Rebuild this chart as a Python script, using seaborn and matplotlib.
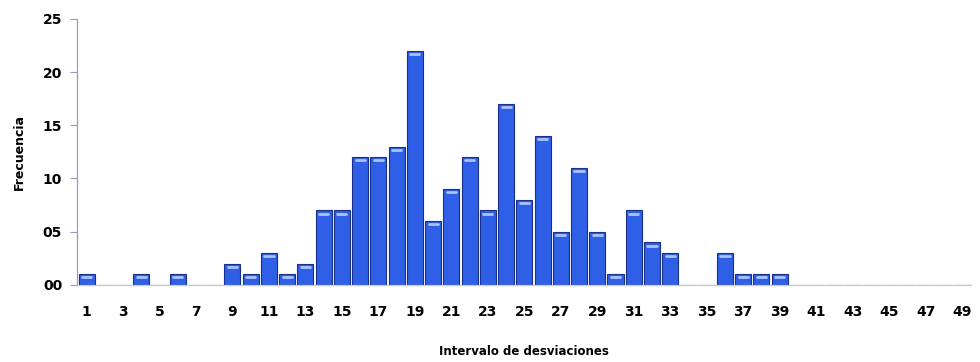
import matplotlib
matplotlib.use("Agg")
import matplotlib.pyplot as plt
import seaborn as sns
import pandas as pd

# Frequency of each deviation interval (1..49)
intervals = list(range(1, 50))
frequencies = [1, 0, 0, 1, 0, 1, 0, 0, 2, 1,
               3, 1, 2, 7, 7, 12, 12, 13, 22, 6,
               9, 12, 7, 17, 8, 14, 5, 11, 5, 1,
               7, 4, 3, 0, 0, 3, 1, 1, 1, 0,
               0, 0, 0, 0, 0, 0, 0, 0, 0]
y_ticks = [0, 5, 10, 15, 20, 25]

df = pd.DataFrame({"intervalo": intervals, "frecuencia": frequencies})

sns.set_style("white")
plt.rcParams["font.family"] = ["DejaVu Sans"]
plt.rcParams["text.color"] = "black"
plt.rcParams["axes.labelcolor"] = "black"
plt.rcParams["xtick.color"] = "black"
plt.rcParams["ytick.color"] = "black"

fig = plt.figure(figsize=(9.8, 3.62), dpi=100)
ax = fig.add_axes([0.079, 0.213, 0.912, 0.735])

sns.barplot(data=df, x="intervalo", y="frecuencia", order=intervals,
            color="#2f5fe6", saturation=1, width=0.88,
            edgecolor="#18308a", linewidth=0.8, ax=ax)

# light cap on each bar top
for i, v in enumerate(frequencies):
    if v > 0:
        ax.plot([i - 0.25, i + 0.25], [v - 0.3, v - 0.3], color="#a9c4ff",
                lw=2, solid_capstyle="round", zorder=3)

ax.set_xlim(-0.5, len(intervals) - 0.5)
ax.set_ylim(0, 25)
ax.set_yticks(y_ticks)
ax.set_yticklabels([f"{t:02d}" for t in y_ticks], fontsize=10, fontweight="bold")
ax.set_xticks(range(0, len(intervals), 2))
ax.set_xticklabels([str(intervals[i]) for i in range(0, len(intervals), 2)],
                   fontsize=10, fontweight="bold")

ax.tick_params(axis="y", which="major", left=True, length=5, width=0.8,
               color="#9a9ac0", labelcolor="black", pad=6)
ax.tick_params(axis="x", bottom=False, labelcolor="black", pad=11)

for side in ("top", "right"):
    ax.spines[side].set_visible(False)
ax.spines["left"].set_color("#9a9ac0")
ax.spines["left"].set_linewidth(0.9)
ax.spines["bottom"].set_color("#c8c8c8")
ax.spines["bottom"].set_linewidth(0.9)

ax.set_xlabel("Intervalo de desviaciones", fontsize=8.5, fontweight="bold",
              labelpad=19)
ax.set_ylabel("Frecuencia", fontsize=9, fontweight="bold", labelpad=12)

fig.savefig("out.png", dpi=100, facecolor="white")
